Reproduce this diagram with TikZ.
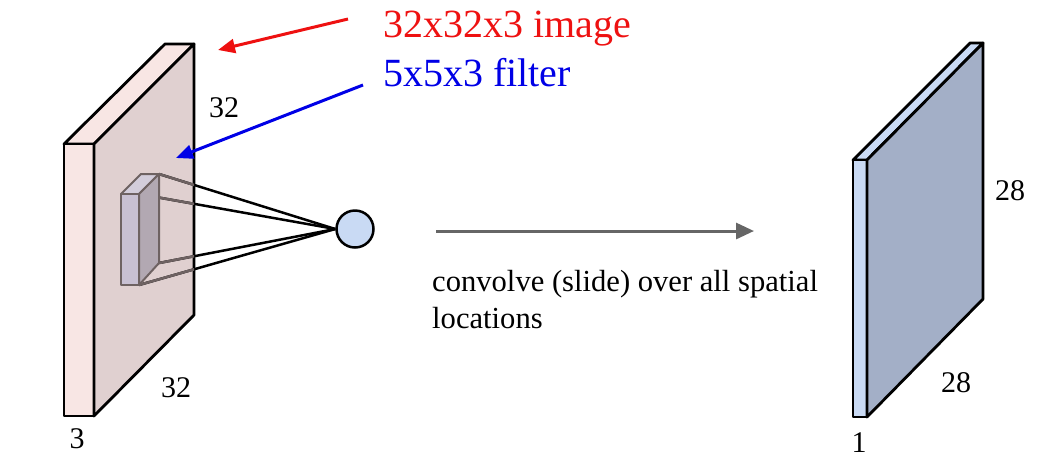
\documentclass[tikz,border=0pt]{standalone}
\usepackage{fontspec}
\setmainfont{Liberation Serif}
\usetikzlibrary{arrows.meta}
\definecolor{pinklight}{HTML}{F8E6E4}
\definecolor{pinkface}{HTML}{E0D0D0}
\definecolor{filtfront}{HTML}{C8C0D2}
\definecolor{filtside}{HTML}{B2A8B2}
\definecolor{filtline}{HTML}{6E6262}
\definecolor{lightblue}{HTML}{C9DAF4}
\definecolor{blueface}{HTML}{A3AFC7}
\definecolor{arrowgray}{HTML}{666666}
\definecolor{myred}{HTML}{EE1111}
\definecolor{myblue}{HTML}{0000E6}
\tikzset{
  slab/.style={draw=black, line width=2.8pt, line join=round},
  filt/.style={draw=filtline, line width=2pt, line join=round},
  conn/.style={line width=2.5pt},
  dimlabel/.style={font=\fontsize{30}{30}\selectfont, anchor=base, inner sep=0pt},
  bigred/.style={font=\fontsize{40}{40}\selectfont, text=myred, anchor=base west, inner sep=0pt},
  bigblue/.style={font=\fontsize{40}{40}\selectfont, text=myblue, anchor=base west, inner sep=0pt},
  pointer/.style={line width=3pt, -{Triangle[length=17pt,width=14pt]}},
}
\begin{document}
\begin{tikzpicture}[x=1pt,y=-1pt]
\useasboundingbox (0,0) rectangle (1056,475);
% ---- input volume ----
\coordinate (A1) at (64,144);
\coordinate (A2) at (94,144);
\coordinate (A3) at (94,416);
\coordinate (A4) at (64,416);
\coordinate (B1) at (165,44);
\coordinate (B2) at (194,44);
\coordinate (B3) at (194,315);
\filldraw[slab, fill=pinklight] (A1) -- (B1) -- (B2) -- (A2) -- cycle;
\filldraw[slab, fill=pinklight] (A1) rectangle (A3);
\filldraw[slab, fill=pinkface] (A2) -- (B2) -- (B3) -- (A3) -- cycle;
% ---- neuron ----
\node[circle, draw=black, line width=2.5pt, fill=lightblue, minimum size=37pt, inner sep=0pt] (neuron) at (355,229) {};
% ---- filter corners ----
\coordinate (F1) at (121,194);
\coordinate (F2) at (139,194);
\coordinate (F3) at (139,285);
\coordinate (F4) at (121,285);
\coordinate (G1) at (141,174);
\coordinate (G2) at (159,174);
\coordinate (G3) at (159,263);
% connectors
\foreach \c in {G2,F2,G3,F3} \draw[conn, black] (\c) -- (neuron.west);
\begin{scope}
  \clip (A2) -- (B2) -- (B3) -- (A3) -- cycle;
  \foreach \c in {G2,F2,G3,F3} \draw[conn, filtline] (\c) -- (neuron.west);
\end{scope}
% filter box
\filldraw[filt, fill=filtfront!80!white] (F1) -- (G1) -- (G2) -- (F2) -- cycle;
\filldraw[filt, fill=filtfront] (F1) rectangle (F3);
\filldraw[filt, fill=filtside] (F2) -- (G2) -- (G3) -- (F3) -- cycle;
% ---- labels on input ----
\node[dimlabel] (l32a) at (224,117) {32};
\node[dimlabel] (l32b) at (176,397) {32};
\node[dimlabel] (l3) at (77,448) {3};
% ---- titles and pointers ----
\node[bigred] (imgtxt) at (383,37) {32x32x3 image};
\node[bigblue] (filtxt) at (383,86) {5x5x3 filter};
\coordinate (redstart) at (348,19);
\coordinate (redtip) at (218,50);
\coordinate (bluestart) at (363,85);
\coordinate (bluetip) at (176,158);
\draw[pointer, myred] (redstart) -- (redtip);
\draw[pointer, myblue] (bluestart) -- (bluetip);
% ---- convolve arrow ----
\coordinate (cstart) at (436,231);
\coordinate (cend) at (754,231);
\draw[line width=3pt, arrowgray, -{Triangle[length=18pt,width=16pt]}] (cstart) -- (cend);
\node[font=\fontsize{30.6}{37}\selectfont, anchor=base west, inner sep=0pt, align=left] (conv) at (432,328) {convolve (slide) over all spatial\\locations};
% ---- output activation map ----
\coordinate (C1) at (853,160);
\coordinate (C2) at (867,160);
\coordinate (C3) at (867,417);
\coordinate (D1) at (970,43);
\coordinate (D2) at (983,43);
\coordinate (D3) at (983,299);
\filldraw[slab, fill=lightblue] (C1) -- (D1) -- (D2) -- (C2) -- cycle;
\filldraw[slab, fill=lightblue] (C1) rectangle (C3);
\filldraw[slab, fill=blueface] (C2) -- (D2) -- (D3) -- (C3) -- cycle;
\node[dimlabel] (l28a) at (1010,200) {28};
\node[dimlabel] (l28b) at (956,392) {28};
\node[dimlabel] (l1) at (859,452) {1};
\end{tikzpicture}
\end{document}
